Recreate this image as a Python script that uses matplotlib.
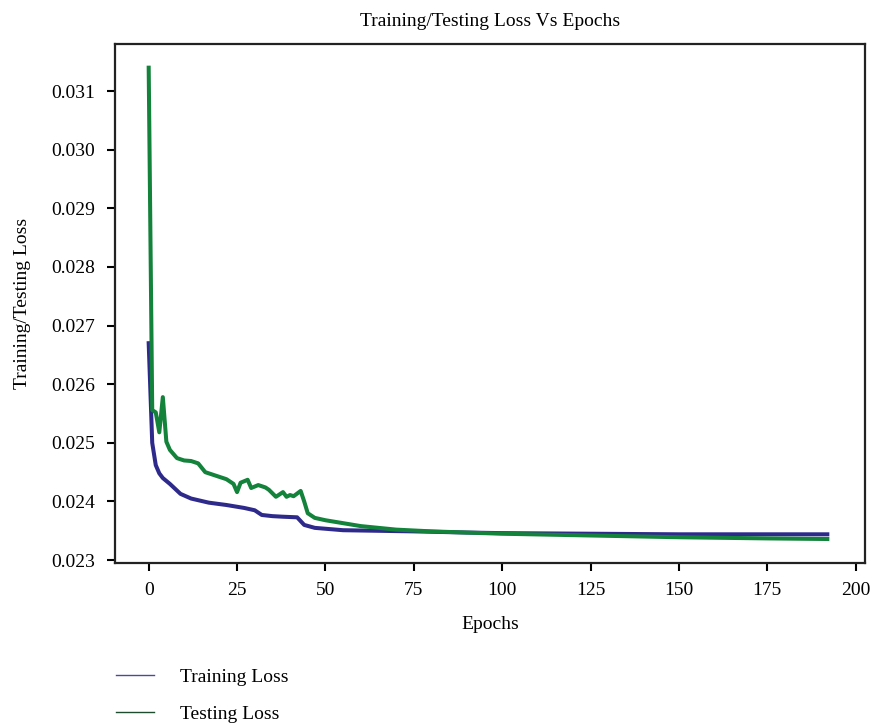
import matplotlib
matplotlib.use("Agg")
import matplotlib.pyplot as plt
from matplotlib.lines import Line2D

# values
train_epochs = [0, 1, 2, 3, 4, 6, 9, 12, 17, 22, 27, 30, 32, 35, 38, 42, 44, 47,
                55, 65, 75, 90, 100, 125, 150, 175, 192]
train_loss = [0.02670, 0.02500, 0.02462, 0.02448, 0.02440, 0.02430, 0.02413,
              0.02405, 0.02398, 0.02394, 0.02389, 0.02385, 0.02377, 0.02375,
              0.02374, 0.02373, 0.02360, 0.02355, 0.02351, 0.02350, 0.02349,
              0.02347, 0.02346, 0.02345, 0.02344, 0.02344, 0.02344]

test_epochs = [0, 1, 2, 3, 4, 5, 6, 8, 10, 12, 14, 16, 18, 20, 22, 24, 25, 26,
               28, 29, 31, 33, 34, 36, 38, 39, 40, 41, 43, 44, 45, 47, 50, 55,
               60, 70, 80, 90, 100, 125, 150, 175, 192]
test_loss = [0.03140, 0.02556, 0.02552, 0.02518, 0.02578, 0.02502, 0.02488,
             0.02474, 0.02470, 0.02469, 0.02465, 0.02450, 0.02446, 0.02442,
             0.02438, 0.02430, 0.02416, 0.02432, 0.02437, 0.02423, 0.02428,
             0.02424, 0.02420, 0.02408, 0.02416, 0.02408, 0.02411, 0.02409,
             0.02418, 0.02400, 0.02380, 0.02372, 0.02368, 0.02363, 0.02358,
             0.02352, 0.02349, 0.02347, 0.02345, 0.02342, 0.02339, 0.02337,
             0.02336]

x_ticks = [0, 25, 50, 75, 100, 125, 150, 175, 200]
y_ticks = [0.023, 0.024, 0.025, 0.026, 0.027, 0.028, 0.029, 0.030, 0.031]

plt.rcParams["font.family"] = ["Liberation Serif", "DejaVu Serif"]
fs = 14

fig = plt.figure(figsize=(8.76, 7.25), dpi=100)
ax = fig.add_axes([0.131, 0.2234, 0.857, 0.716])

ax.plot(train_epochs, train_loss, color="#2e2a8c", linewidth=2.9)
ax.plot(test_epochs, test_loss, color="#13823a", linewidth=2.9)

ax.set_xlim(-9.6, 202.8)
ax.set_ylim(0.02295, 0.031805)
ax.set_xticks(x_ticks)
ax.set_yticks(y_ticks)
ax.set_xticklabels([str(t) for t in x_ticks])
ax.set_yticklabels(["%.3f" % t for t in y_ticks])
ax.tick_params(direction="out", length=6, width=1.5, labelsize=fs, pad=8)
for s in ax.spines.values():
    s.set_linewidth(1.6)
    s.set_color("#222222")

ax.set_title("Training/Testing Loss Vs Epochs", fontsize=fs, pad=13)
ax.set_xlabel("Epochs", fontsize=fs, labelpad=12)
ax.set_ylabel("Training/Testing Loss", fontsize=fs, labelpad=15)

# legend below the plot, thin handles, no frame
handles = [Line2D([], [], color="#4a4a9a", linewidth=1.0),
           Line2D([], [], color="#1d4d2e", linewidth=1.0)]
fig.legend(handles, ["Training Loss", "Testing Loss"], loc="upper left",
           bbox_to_anchor=(0.132, 0.078), frameon=False, fontsize=fs,
           handlelength=1.95, handletextpad=1.35, labelspacing=1.0,
           borderaxespad=0, borderpad=0)

fig.savefig("out.png", dpi=100)
